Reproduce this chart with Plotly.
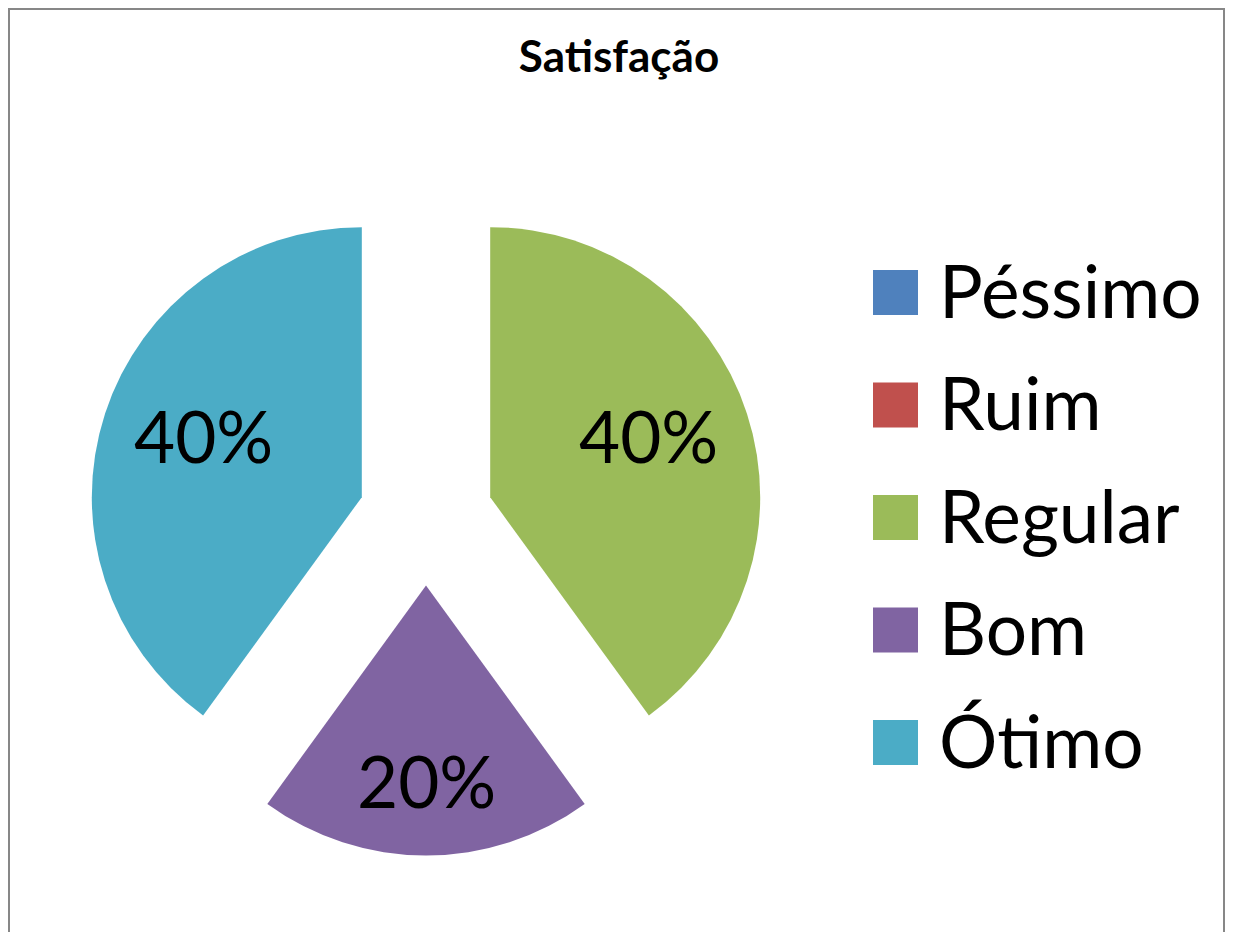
import math
import plotly.graph_objects as go

labels = ["Péssimo", "Ruim", "Regular", "Bom", "Ótimo"]
values = [0, 0, 40, 20, 40]
colors = ["#4F81BD", "#C0504D", "#9BBB59", "#8064A2", "#4BACC6"]
title = "Satisfação"

# page body has an 8px margin; size the figure so the page fits the window exactly
OFF = 8
W, H = 1233 - 2 * OFF, 940 - 2 * OFF
FONT = "Lato"
PULL = 0.25


def fx(x):
    return (x - OFF) / W


def fy(y):
    return 1 - (y - OFF) / H


# pie box in window pixels
BOX_L, BOX_R, BOX_T, BOX_B = 88.5, 763.5, 180.5, 855.5
CX, CY = (BOX_L + BOX_R) / 2, (BOX_T + BOX_B) / 2
R = (BOX_R - BOX_L) / (2 + 2 * PULL)

fig = go.Figure(
    go.Pie(
        labels=labels,
        values=values,
        sort=False,
        direction="clockwise",
        rotation=0,
        pull=PULL,
        marker=dict(colors=colors, line=dict(width=0)),
        textinfo="none",
        domain=dict(x=[fx(BOX_L), fx(BOX_R)], y=[fy(BOX_B), fy(BOX_T)]),
        showlegend=False,
        hoverinfo="label+percent",
    )
)

annotations = []
shapes = [
    dict(type="rect", xref="paper", yref="paper",
         x0=fx(9), x1=fx(1224), y0=-0.05, y1=fy(9),
         line=dict(color="#878787", width=2), fillcolor="rgba(0,0,0,0)", layer="below")
]

# percentage labels placed inside each (exploded) slice, Excel-like
total = sum(values)
cum = 0.0
for v in values:
    if v > 0:
        a0 = cum / total * 2 * math.pi
        a1 = (cum + v) / total * 2 * math.pi
        mid = (a0 + a1) / 2
        half = (a1 - a0) / 2
        dx, dy = math.sin(mid), -math.cos(mid)
        centroid = 2 * R * math.sin(half) / (3 * half)
        dist = PULL * R + 1.22 * centroid
        px, py = CX + dist * dx, CY + dist * dy
        annotations.append(dict(text=f"{v / total * 100:.0f}%", xref="paper", yref="paper",
                                x=fx(px), y=fy(py), xanchor="center", yanchor="middle",
                                yshift=10, showarrow=False,
                                font=dict(family=FONT, size=71, color="black")))
    cum += v

# manual legend (large square keys like the original)
y_first, step = 292.5, 112.5
for i, (lab, col) in enumerate(zip(labels, colors)):
    yc = y_first + i * step
    shapes.append(dict(type="rect", xref="paper", yref="paper",
                       x0=fx(873), x1=fx(918),
                       y0=fy(yc + 22.5), y1=fy(yc - 22.5),
                       line=dict(width=0), fillcolor=col))
    annotations.append(dict(text=lab, xref="paper", yref="paper",
                            x=fx(937), y=fy(yc), xanchor="left", yanchor="middle",
                            yshift=3, showarrow=False,
                            font=dict(family=FONT, size=73, color="black")))

fig.update_layout(
    width=W, height=H,
    margin=dict(l=0, r=0, t=0, b=0),
    paper_bgcolor="white",
    title=dict(text="<b>" + title + "</b>", x=fx(619), xanchor="center",
               y=fy(57), yanchor="middle", yref="container",
               font=dict(family=FONT, size=44, color="black")),
    shapes=shapes,
    annotations=annotations,
)

fig.write_html("out.html")
